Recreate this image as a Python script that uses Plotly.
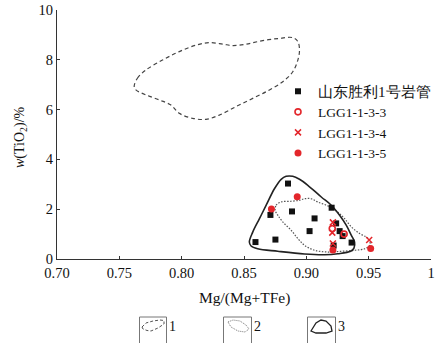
import plotly.graph_objects as go

# Sample data: Mg/(Mg+TFe) vs w(TiO2) %
kimberlite_x = [0.8853, 0.9203, 0.8885, 0.8712, 0.9066, 0.9026, 0.9239, 0.9267, 0.9291, 0.9363, 0.8592, 0.8752, 0.9219]
kimberlite_y = [3.03, 2.06, 1.91, 1.77, 1.63, 1.12, 1.43, 1.12, 0.92, 0.66, 0.68, 0.78, 0.54]

lgg133_x = [0.9208, 0.9303]
lgg133_y = [1.22, 1.00]

lgg134_x = [0.9213, 0.9208, 0.9213, 0.9504]
lgg134_y = [1.47, 1.06, 0.62, 0.76]

lgg135_x = [0.8927, 0.8720, 0.9213, 0.9516]
lgg135_y = [2.50, 2.01, 0.36, 0.42]

# Field boundaries
field1_x = [0.7619, 0.7645, 0.7713, 0.7846, 0.7981, 0.8115, 0.8222, 0.8329, 0.8409, 0.8517, 0.8650,
            0.8785, 0.8891, 0.8932, 0.8945, 0.8932, 0.8891, 0.8811, 0.8704, 0.8570, 0.8436, 0.8302,
            0.8195, 0.8088, 0.7981, 0.7914, 0.7820, 0.7713, 0.7633, 0.7619]
field1_y = [6.92, 7.26, 7.59, 7.99, 8.33, 8.59, 8.69, 8.63, 8.57, 8.63, 8.77,
            8.86, 8.89, 8.73, 8.39, 7.99, 7.52, 7.12, 6.79, 6.45, 6.12, 5.78,
            5.61, 5.65, 5.85, 6.18, 6.39, 6.59, 6.79, 6.92]

field2_x = [0.8750, 0.8758, 0.8798, 0.8879, 0.8945, 0.8986, 0.9039, 0.9092, 0.9160, 0.9213, 0.9267,
            0.9307, 0.9361, 0.9428, 0.9481, 0.9508, 0.9508, 0.9468, 0.9387, 0.9281, 0.9173, 0.9066,
            0.8986, 0.8932, 0.8879, 0.8811, 0.8771, 0.8750]
field2_y = [1.96, 2.16, 2.29, 2.32, 2.36, 2.42, 2.42, 2.29, 2.16, 2.02, 1.82,
            1.62, 1.29, 1.02, 0.88, 0.75, 0.55, 0.41, 0.35, 0.31, 0.28, 0.35,
            0.55, 0.82, 1.15, 1.49, 1.76, 1.96]

field3_x = [0.8798, 0.8838, 0.8891, 0.8945, 0.9012, 0.9120, 0.9200, 0.9267, 0.9321, 0.9361, 0.9387,
            0.9382, 0.9355, 0.9253, 0.9146, 0.8986, 0.8771, 0.8610, 0.8557, 0.8543, 0.8570, 0.8624,
            0.8678, 0.8744, 0.8798]
field3_y = [3.20, 3.32, 3.32, 3.20, 2.96, 2.49, 2.16, 1.76, 1.35, 0.95, 0.68,
            0.44, 0.31, 0.21, 0.17, 0.20, 0.31, 0.41, 0.52, 0.68, 1.08, 1.62,
            2.16, 2.82, 3.20]

x_ticks = [0.70, 0.75, 0.80, 0.85, 0.90, 0.95, 1.0]
x_tick_text = ["0.70", "0.75", "0.80", "0.85", "0.90", "0.95", "1"]
y_ticks = [0, 2, 4, 6, 8, 10]

SERIF = "Liberation Serif, Times New Roman, serif"
RED = "#e3262b"
DARK = "#333333"

fig = go.Figure()

fig.add_trace(go.Scatter(x=field1_x, y=field1_y, mode="lines", line=dict(color="#444", width=1.2, dash="4px,3px", shape="spline"),
                         showlegend=False, hoverinfo="skip"))
fig.add_trace(go.Scatter(x=field2_x, y=field2_y, mode="lines", line=dict(color="#555", width=1.2, dash="1.5px,1.5px", shape="spline"),
                         showlegend=False, hoverinfo="skip"))
fig.add_trace(go.Scatter(x=field3_x, y=field3_y, mode="lines", line=dict(color="#222", width=1.6, shape="spline"),
                         showlegend=False, hoverinfo="skip"))

fig.add_trace(go.Scatter(x=kimberlite_x, y=kimberlite_y, mode="markers",
                         name="<span style='font-size:15px'>山东胜利1号岩管</span>",
                         marker=dict(symbol="square", size=6, color="#111111")))
fig.add_trace(go.Scatter(x=lgg133_x, y=lgg133_y, mode="markers", name="LGG1-1-3-3",
                         marker=dict(symbol="circle-open", size=6, color=RED, line=dict(width=1.6))))
fig.add_trace(go.Scatter(x=lgg134_x, y=lgg134_y, mode="markers", name="LGG1-1-3-4",
                         marker=dict(symbol="x-thin-open", size=6, color=RED, line=dict(width=1.5, color=RED))))
fig.add_trace(go.Scatter(x=lgg135_x, y=lgg135_y, mode="markers", name="LGG1-1-3-5",
                         marker=dict(symbol="circle", size=7, color=RED)))

# plot area: left 57, right 431, top 10, bottom 259 (px)
W, H = 438, 343
L, R, T, B = 57, 431, 10, 259


def px(xp):
    return (xp - L) / (R - L)


def py(yp):
    return (B - yp) / (B - T)


shapes = []
# key boxes below the axis
for x0, x1 in [(139.5, 166.5), (223.5, 251.5), (307.5, 335.5)]:
    shapes.append(dict(type="rect", xref="paper", yref="paper", x0=px(x0), x1=px(x1), y0=py(350), y1=py(317),
                       line=dict(color="#777", width=1), fillcolor="rgba(0,0,0,0)"))


def blob(points):
    d = "M " + " L ".join(f"{px(a):.4f},{py(b):.4f}" for a, b in points) + " Z"
    return d


icon1 = [(142, 327), (146, 323), (153, 321), (160, 320), (164, 320.5), (164, 324), (158, 328), (151, 331), (147, 330.5), (143, 329)]
icon2 = [(228, 322), (233, 320), (240, 321), (246, 325), (249, 329), (245, 332), (238, 331), (231, 327)]
icon3 = [(311, 331), (316, 323), (321, 320), (326, 321), (331, 326), (332, 331), (326, 333), (316, 333)]
shapes.append(dict(type="path", xref="paper", yref="paper", path=blob(icon1), line=dict(color="#555", width=1, dash="3px,2px")))
shapes.append(dict(type="path", xref="paper", yref="paper", path=blob(icon2), line=dict(color="#777", width=1, dash="1px,1px")))
shapes.append(dict(type="path", xref="paper", yref="paper", path=blob(icon3), line=dict(color="#222", width=1.3)))

annotations = [
    dict(text="Mg/(Mg+TFe)", xref="paper", yref="paper", x=px(244), y=py(298), showarrow=False,
         font=dict(family=SERIF, size=15.5, color="#111"), xanchor="center", yanchor="middle"),
    dict(text="<i>w</i>(TiO<sub>2</sub>)/%", xref="paper", yref="paper", x=px(20), y=py(137), showarrow=False,
         textangle=-90, font=dict(family=SERIF, size=14, color="#111"), xanchor="center", yanchor="middle"),
]
for label, xp in [("1", 172), ("2", 257), ("3", 341)]:
    annotations.append(dict(text=label, xref="paper", yref="paper", x=px(xp), y=py(326), showarrow=False,
                            font=dict(family=SERIF, size=14, color="#111"), xanchor="center", yanchor="middle"))

fig.update_layout(
    width=W, height=H,
    margin=dict(l=L, r=W - R, t=T, b=H - B, autoexpand=False),
    paper_bgcolor="white", plot_bgcolor="white",
    font=dict(family=SERIF, size=12, color="#111"),
    shapes=shapes, annotations=annotations,
    legend=dict(x=px(278), y=py(76), xanchor="left", yanchor="top", bgcolor="rgba(0,0,0,0)",
                font=dict(family=SERIF, size=13.5, color="#111"), itemwidth=30, tracegroupgap=0),
    xaxis=dict(range=[0.70, 1.0], tickvals=x_ticks, ticktext=x_tick_text, showgrid=False, zeroline=False,
               showline=True, linecolor=DARK, linewidth=1.2, ticks="inside", ticklen=3, tickcolor=DARK,
               tickfont=dict(family=SERIF, size=14.5, color="#111")),
    yaxis=dict(range=[0, 10], tickvals=y_ticks, showgrid=False, zeroline=False,
               showline=True, linecolor=DARK, linewidth=1.2, ticks="inside", ticklen=3, tickcolor=DARK,
               tickfont=dict(family=SERIF, size=14.5, color="#111")),
)

fig.write_html("out.html")
